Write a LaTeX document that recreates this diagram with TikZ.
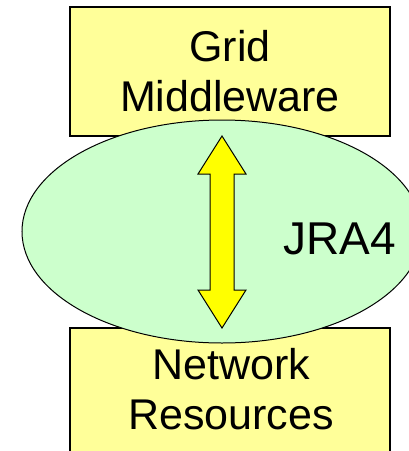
\documentclass[tikz,border=0pt]{standalone}
\usepackage{fontspec}
\setmainfont{Liberation Sans}
\usetikzlibrary{shapes.geometric}
\definecolor{boxyellow}{HTML}{FFFF99}
\definecolor{ovalgreen}{HTML}{CCFFCC}
\definecolor{arrowyellow}{HTML}{FFFF00}
\tikzset{
  layerbox/.style={draw, line width=1.5pt, fill=boxyellow, minimum width=320pt,
    minimum height=129pt, inner sep=0pt, align=center, font=\fontsize{43}{50}\selectfont},
  jraoval/.style={ellipse, draw, line width=1pt, fill=ovalgreen, minimum width=400pt,
    minimum height=223pt, inner sep=0pt},
  blockarrow/.style={draw, line width=1pt, fill=arrowyellow, line join=miter}
}
\begin{document}
\begin{tikzpicture}[x=1pt, y=-1pt]
  \useasboundingbox (0,0) rectangle (409,451);
  \clip (0,0) rectangle (409,451);
  \node[layerbox] (grid) at (230,71.5) {Grid\\Middleware};
  \node[layerbox] (net) at (230,392.5) {};
  \node[jraoval] (jra) at (222,231.5) {};
  \node[align=center, inner sep=0pt, font=\fontsize{43}{50}\selectfont] (netlabel)
    at (231,389.5) {Network\\Resources};
  \path
    (222,136) coordinate (T)
    (246,174) coordinate (TR) (234,174) coordinate (SR1)
    (234,290) coordinate (SR2) (246,290) coordinate (BR)
    (222,328) coordinate (B)
    (198,290) coordinate (BL) (210,290) coordinate (SL2)
    (210,174) coordinate (SL1) (198,174) coordinate (TL);
  \draw[blockarrow] (T)--(TR)--(SR1)--(SR2)--(BR)--(B)--(BL)--(SL2)--(SL1)--(TL)--cycle;
  \node[font=\fontsize{46}{50}\selectfont] (jralabel) at (340,239) {JRA4};
\end{tikzpicture}
\end{document}
